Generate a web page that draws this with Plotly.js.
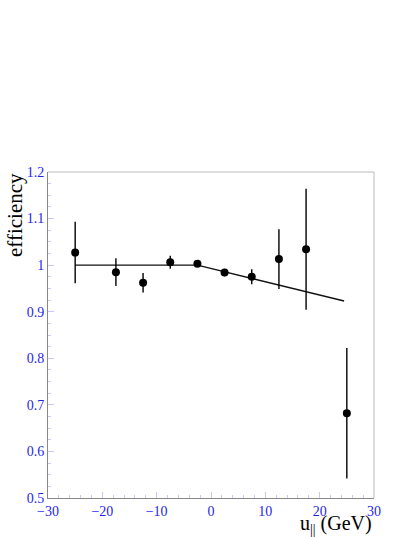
<!DOCTYPE html>
<html>
<head>
<meta charset="utf-8">
<script src="https://cdn.plot.ly/plotly-3.0.1.min.js"></script>
<style>
  html, body { margin: 0; padding: 0; background: #fff; }
  #chart { width: 415px; height: 537px; }
</style>
</head>
<body>
<div id="chart"></div>
<script>
'use strict';

// points mesures (centre du bin en u_par)
var uPar = [-25, -17.5, -12.5, -7.5, -2.5, 2.5, 7.5, 12.5, 17.5, 25];
var eff = [1.027, 0.985, 0.962, 1.006, 1.003, 0.984, 0.975, 1.013, 1.034, 0.682];
var effErr = [0.066, 0.030, 0.021, 0.014, 0.007, 0.008, 0.016, 0.064, 0.130, 0.140];

// ajustement : plat puis pente
var fitX = [-25, -2.5, 24.5];
var fitY = [1.0, 1.0, 0.923];

var serif = 'Liberation Serif';
var blue = '#1f1ff0';

var trace_fit = {
  type: 'scatter',
  mode: 'lines',
  x: fitX,
  y: fitY,
  line: { color: '#111', width: 1.3 },
  hoverinfo: 'skip'
};

var trace_data = {
  type: 'scatter',
  mode: 'markers',
  x: uPar,
  y: eff,
  marker: { color: '#000', size: 8 },
  error_y: {
    type: 'data',
    array: effErr,
    visible: true,
    color: '#000',
    thickness: 1.4,
    width: 0
  }
};

var layout = {
  width: 415,
  height: 537,
  margin: { l: 47.5, r: 40.7, t: 171.7, b: 38.7 },
  font: { family: serif, color: '#000', size: 14 },
  paper_bgcolor: '#fff',
  plot_bgcolor: '#fff',
  showlegend: false,
  xaxis: {
    range: [-30, 30],
    dtick: 10,
    tick0: -30,
    showgrid: false,
    zeroline: false,
    showline: true,
    linecolor: '#888',
    ticks: 'inside',
    ticklen: 6,
    tickcolor: '#c8c8ff',
    tickfont: { family: serif, size: 14, color: blue },
    minor: { dtick: 2, ticks: 'inside', ticklen: 3, tickcolor: '#c8c8ff' }
  },
  yaxis: {
    range: [0.5, 1.2],
    dtick: 0.1,
    tick0: 0.5,
    showgrid: false,
    zeroline: false,
    showline: true,
    linecolor: '#888',
    ticks: 'inside',
    ticklen: 6,
    tickcolor: '#c8c8ff',
    tickfont: { family: serif, size: 14, color: blue },
    minor: { dtick: 0.025, ticks: 'inside', ticklen: 3, tickcolor: '#c8c8ff' }
  },
  shapes: [
    { type: 'line', xref: 'paper', yref: 'paper', x0: 0, x1: 1, y0: 1, y1: 1,
      line: { color: '#bbb', width: 1 } },
    { type: 'line', xref: 'paper', yref: 'paper', x0: 1, x1: 1, y0: 0, y1: 1,
      line: { color: '#bbb', width: 1 } }
  ],
  annotations: [
    {
      text: 'efficiency',
      xref: 'paper', yref: 'paper',
      x: 0, y: 1,
      xanchor: 'center', yanchor: 'top',
      xshift: -33,
      yshift: 1,
      textangle: -90,
      showarrow: false,
      font: { family: serif, size: 21, color: '#000' }
    },
    {
      text: 'u<sub>||</sub> (GeV)',
      xref: 'paper', yref: 'paper',
      x: 1, y: 0,
      xanchor: 'right', yanchor: 'top',
      yshift: -12,
      showarrow: false,
      font: { family: serif, size: 20, color: '#000' }
    }
  ]
};

Plotly.newPlot('chart', [trace_fit, trace_data], layout, { displayModeBar: false, staticPlot: true });
</script>
</body>
</html>
